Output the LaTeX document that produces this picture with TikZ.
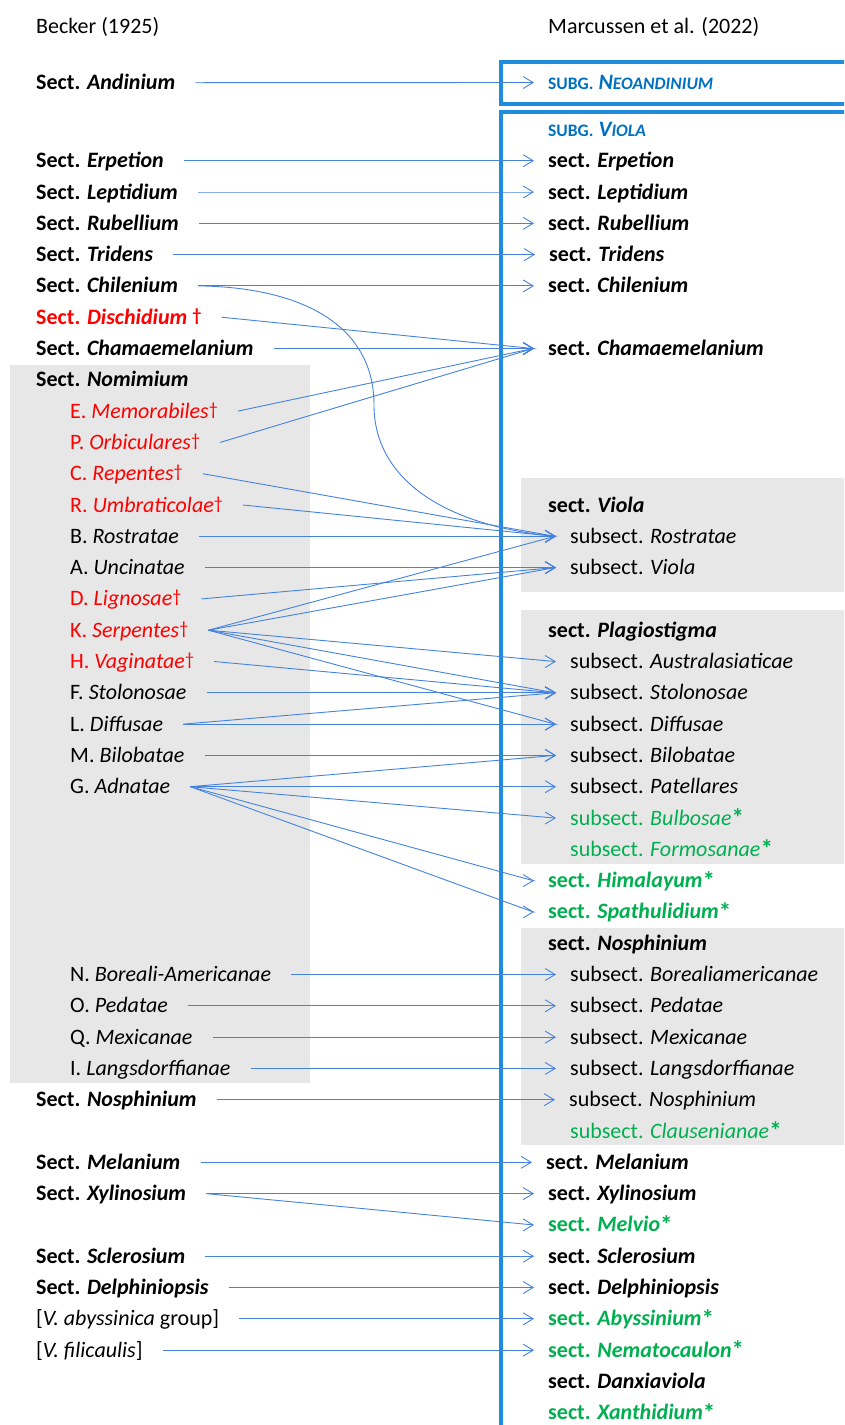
\documentclass[tikz,border=0pt]{standalone}
\usepackage{fontspec}
\setmainfont{Carlito}
\usetikzlibrary{arrows.meta}
\definecolor{lineblue}{RGB}{68,130,222}
\definecolor{boxblue}{RGB}{32,140,222}
\definecolor{subgblue}{RGB}{0,112,192}
\definecolor{vred}{RGB}{255,0,0}
\definecolor{vgreen}{RGB}{0,176,80}
\definecolor{vgray}{RGB}{231,231,231}
\newcommand{\dg}{\raisebox{3pt}{\fontsize{18}{18}\selectfont †}}
\newcommand{\stx}{\raisebox{-1.5pt}{\bfseries\fontsize{25}{25}\selectfont *}}
\newcommand{\smc}[1]{{\fontsize{17.5}{17.5}\selectfont #1}}
\newcommand{\rowb}[1]{167.7+31.3*#1}
\newcommand{\cn}[2]{\draw[conn] ([xshift=20pt]#1.east) -- ([xshift=-15pt]#2.west) -- ([xshift=-14pt]#2.west);}
\begin{document}
\begin{tikzpicture}[x=1pt,y=-1pt,
  lab/.style={anchor=base west, inner sep=0pt, text height=16pt, text depth=2pt, font=\fontsize{22}{26}\selectfont},
  redlab/.style={lab, text=vred},
  greenlab/.style={lab, text=vgreen},
  bluelab/.style={lab, text=subgblue},
  conn/.style={draw=lineblue, line width=0.9pt, -{Straight Barb[length=10pt,width=12pt]}},
  graybox/.style={fill=vgray},
  bluebox/.style={draw=boxblue, line width=3.2pt}]
\useasboundingbox (0,0) rectangle (844,1425);
\clip (0,0) rectangle (844,1425);
% backgrounds
\fill[graybox] (10,365) rectangle (310,1083);
\fill[graybox] (521,478) rectangle (850,592);
\fill[graybox] (521,610) rectangle (850,864);
\fill[graybox] (521,928) rectangle (850,1145);
\draw[bluebox] (501,62) rectangle (870,104);
\draw[bluebox] (501,112) rectangle (870,1450);
% headers
\node[lab] (lhead) at (36,33) {Becker (1925)};
\node[lab] (rhead) at (548,33) {Marcussen et al. (2022)};
% left column
\node[lab] (land) at (36,89.7) {\textbf{Sect. \textit{Andinium}}};
\node[lab] (lerp) at (36,{\rowb{0}}) {\textbf{Sect. \textit{Erpetion}}};
\node[lab] (llep) at (36,{\rowb{1}}) {\textbf{Sect. \textit{Leptidium}}};
\node[lab] (lrub) at (36,{\rowb{2}}) {\textbf{Sect. \textit{Rubellium}}};
\node[lab] (ltri) at (36,{\rowb{3}}) {\textbf{Sect. \textit{Tridens}}};
\node[lab] (lchi) at (36,{\rowb{4}}) {\textbf{Sect. \textit{Chilenium}}};
\node[redlab] (ldis) at (36,{\rowb{5}}) {\textbf{Sect. \textit{Dischidium} \dg}};
\node[lab] (lcham) at (36,{\rowb{6}}) {\textbf{Sect. \textit{Chamaemelanium}}};
\node[lab] (lnom) at (36,{\rowb{7}}) {\textbf{Sect. \textit{Nomimium}}};
\node[redlab] (lmem) at (70,{\rowb{8}}) {E. \textit{Memorabiles}\dg};
\node[redlab] (lorb) at (70,{\rowb{9}}) {P. \textit{Orbiculares}\dg};
\node[redlab] (lrep) at (70,{\rowb{10}}) {C. \textit{Repentes}\dg};
\node[redlab] (lumb) at (70,{\rowb{11}}) {R. \textit{Umbraticolae}\dg};
\node[lab] (lros) at (70,{\rowb{12}}) {B. \textit{Rostratae}};
\node[lab] (lunc) at (70,{\rowb{13}}) {A. \textit{Uncinatae}};
\node[redlab] (llig) at (70,{\rowb{14}}) {D. \textit{Lignosae}\dg};
\node[redlab] (lser) at (70,{\rowb{15}}) {K. \textit{Serpentes}\dg};
\node[redlab] (lvag) at (70,{\rowb{16}}) {H. \textit{Vaginatae}\dg};
\node[lab] (lsto) at (70,{\rowb{17}}) {F. \textit{Stolonosae}};
\node[lab] (ldif) at (70,{\rowb{18}}) {L. \textit{Diffusae}};
\node[lab] (lbil) at (70,{\rowb{19}}) {M. \textit{Bilobatae}};
\node[lab] (ladn) at (70,{\rowb{20}}) {G. \textit{Adnatae}};
\node[lab] (lbor) at (70,{\rowb{26}}) {N. \textit{Boreali-Americanae}};
\node[lab] (lped) at (70,{\rowb{27}}) {O. \textit{Pedatae}};
\node[lab] (lmex) at (70,{\rowb{28}}) {Q. \textit{Mexicanae}};
\node[lab] (llan) at (70,{\rowb{29}}) {I. \textit{Langsdorffianae}};
\node[lab] (lnos) at (36,{\rowb{30}}) {\textbf{Sect. \textit{Nosphinium}}};
\node[lab] (lmel) at (36,{\rowb{32}}) {\textbf{Sect. \textit{Melanium}}};
\node[lab] (lxyl) at (36,{\rowb{33}}) {\textbf{Sect. \textit{Xylinosium}}};
\node[lab] (lscl) at (36,{\rowb{35}}) {\textbf{Sect. \textit{Sclerosium}}};
\node[lab] (ldel) at (36,{\rowb{36}}) {\textbf{Sect. \textit{Delphiniopsis}}};
\node[lab] (laby) at (36,{\rowb{37}}) {[\textit{V. abyssinica} group]};
\node[lab] (lfil) at (36,{\rowb{38}}) {[\textit{V. filicaulis}]};
% right column
\node[bluelab] (rneo) at (548,89.5) {\textbf{\smc{SUBG.} \textit{N\smc{EOANDINIUM}}}};
\node[bluelab] (rsubv) at (548,136) {\textbf{\smc{SUBG.} \textit{V\smc{IOLA}}}};
\node[lab] (rerp) at (548,{\rowb{0}}) {\textbf{sect. \textit{Erpetion}}};
\node[lab] (rlep) at (548,{\rowb{1}}) {\textbf{sect. \textit{Leptidium}}};
\node[lab] (rrub) at (548,{\rowb{2}}) {\textbf{sect. \textit{Rubellium}}};
\node[lab] (rtri) at (549,{\rowb{3}}) {\textbf{sect. \textit{Tridens}}};
\node[lab] (rchi) at (548,{\rowb{4}}) {\textbf{sect. \textit{Chilenium}}};
\node[lab] (rcham) at (548,{\rowb{6}}) {\textbf{sect. \textit{Chamaemelanium}}};
\node[lab] (rviola) at (548,{\rowb{11}}) {\textbf{sect. \textit{Viola}}};
\node[lab] (rrost) at (570,{\rowb{12}}) {subsect. \textit{Rostratae}};
\node[lab] (rvio) at (570,{\rowb{13}}) {subsect. \textit{Viola}};
\node[lab] (rplag) at (548,{\rowb{15}}) {\textbf{sect. \textit{Plagiostigma}}};
\node[lab] (raus) at (570,{\rowb{16}}) {subsect. \textit{Australasiaticae}};
\node[lab] (rsto) at (570,{\rowb{17}}) {subsect. \textit{Stolonosae}};
\node[lab] (rdif) at (570,{\rowb{18}}) {subsect. \textit{Diffusae}};
\node[lab] (rbil) at (570,{\rowb{19}}) {subsect. \textit{Bilobatae}};
\node[lab] (rpat) at (570,{\rowb{20}}) {subsect. \textit{Patellares}};
\node[greenlab] (rbul) at (570,{\rowb{21}}) {subsect. \textit{Bulbosae}\stx};
\node[greenlab] (rfor) at (570,{\rowb{22}}) {subsect. \textit{Formosanae}\stx};
\node[greenlab] (rhim) at (548,{\rowb{23}}) {\textbf{sect. \textit{Himalayum}}\stx};
\node[greenlab] (rspa) at (548,{\rowb{24}}) {\textbf{sect. \textit{Spathulidium}}\stx};
\node[lab] (rnos) at (548,{\rowb{25}}) {\textbf{sect. \textit{Nosphinium}}};
\node[lab] (rbor) at (570,{\rowb{26}}) {subsect. \textit{Borealiamericanae}};
\node[lab] (rped) at (570,{\rowb{27}}) {subsect. \textit{Pedatae}};
\node[lab] (rmex) at (570,{\rowb{28}}) {subsect. \textit{Mexicanae}};
\node[lab] (rlan) at (570,{\rowb{29}}) {subsect. \textit{Langsdorffianae}};
\node[lab] (rnsub) at (569,{\rowb{30}}) {subsect. \textit{Nosphinium}};
\node[greenlab] (rcla) at (570,{\rowb{31}}) {subsect. \textit{Clausenianae}\stx};
\node[lab] (rmel) at (546,{\rowb{32}}) {\textbf{sect. \textit{Melanium}}};
\node[lab] (rxyl) at (548,{\rowb{33}}) {\textbf{sect. \textit{Xylinosium}}};
\node[greenlab] (rmelv) at (548,{\rowb{34}}) {\textbf{sect. \textit{Melvio}}\stx};
\node[lab] (rscl) at (548,{\rowb{35}}) {\textbf{sect. \textit{Sclerosium}}};
\node[lab] (rdel) at (548,{\rowb{36}}) {\textbf{sect. \textit{Delphiniopsis}}};
\node[greenlab] (raby) at (548,{\rowb{37}}) {\textbf{sect. \textit{Abyssinium}}\stx};
\node[greenlab] (rnem) at (548,{\rowb{38}}) {\textbf{sect. \textit{Nematocaulon}}\stx};
\node[lab] (rdan) at (548,{\rowb{39}}) {\textbf{sect. \textit{Danxiaviola}}};
\node[greenlab] (rxan) at (548,{\rowb{40}}) {\textbf{sect. \textit{Xanthidium}}\stx};
% connectors
\cn{land}{rneo}
\cn{lerp}{rerp}
\cn{llep}{rlep}
\cn{lrub}{rrub}
\cn{ltri}{rtri}
\cn{lchi}{rchi}
\cn{ldis}{rcham}
\cn{lcham}{rcham}
\cn{lmem}{rcham}
\cn{lorb}{rcham}
\cn{lrep}{rrost}
\cn{lumb}{rrost}
\cn{lros}{rrost}
\cn{lunc}{rvio}
\cn{llig}{rvio}
\cn{lser}{rrost}
\cn{lser}{rvio}
\cn{lser}{raus}
\cn{lser}{rsto}
\cn{lser}{rdif}
\cn{lvag}{rsto}
\cn{lsto}{rsto}
\cn{ldif}{rsto}
\cn{ldif}{rdif}
\cn{lbil}{rbil}
\cn{ladn}{rbil}
\cn{ladn}{rpat}
\cn{ladn}{rbul}
\cn{ladn}{rhim}
\cn{ladn}{rspa}
\cn{lbor}{rbor}
\cn{lped}{rped}
\cn{lmex}{rmex}
\cn{llan}{rlan}
\cn{lnos}{rnsub}
\cn{lmel}{rmel}
\cn{lxyl}{rxyl}
\cn{lxyl}{rmelv}
\cn{lscl}{rscl}
\cn{ldel}{rdel}
\cn{laby}{raby}
\cn{lfil}{rnem}
\coordinate (cbend) at (374,405);
\draw[conn, -] ([xshift=20pt]lchi.east) .. controls +(95,1) and +(0,-85) .. (cbend)
  .. controls +(0,75) and +(-110,-10) .. ([xshift=-14pt]rrost.west);
\end{tikzpicture}
\end{document}
